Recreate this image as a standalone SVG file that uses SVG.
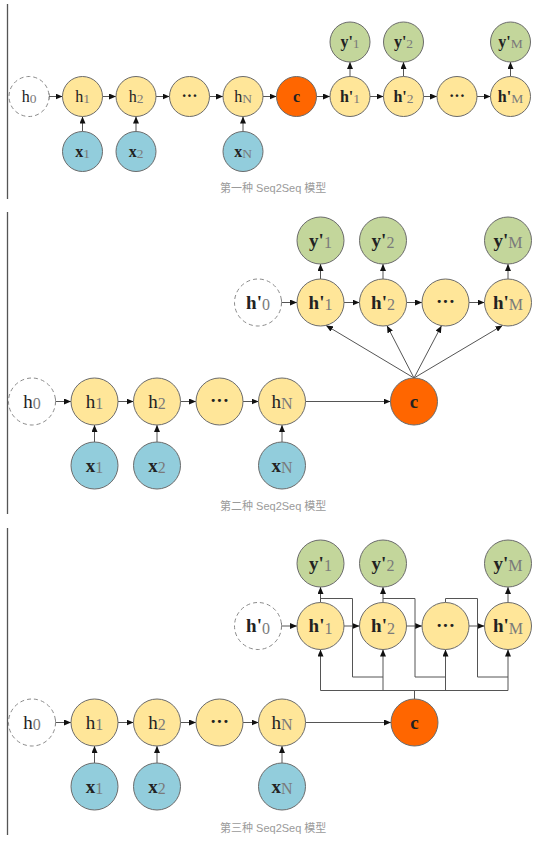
<svg xmlns="http://www.w3.org/2000/svg" width="545" height="844" viewBox="0 0 545 844">
<style>
.h{fill:#FFE699;stroke:#6b6b6b;stroke-width:1}
.x{fill:#92CDDC;stroke:#6b6b6b;stroke-width:1}
.y{fill:#C3D69B;stroke:#6b6b6b;stroke-width:1}
.c{fill:#FF6600;stroke:#6b6b6b;stroke-width:1}
.d{fill:#fff;stroke:#8a8a8a;stroke-width:1;stroke-dasharray:4 3}
.ln{stroke:#555;stroke-width:1;fill:none}
.a{marker-end:url(#ah)}
.tk{marker-start:url(#tick)}
.t{font-family:"Liberation Serif","DejaVu Serif",serif;text-anchor:middle;fill:#222}
.b{font-weight:bold}
.p1{font-size:16px}
.p2{font-size:19px}
.s{fill:#7a7a7a;font-weight:normal}
.s1{font-size:13.5px}
.s2{font-size:16px}
.cap{font-family:"Liberation Sans","Noto Sans CJK SC",sans-serif;font-size:11px;fill:#9a9a9a}
.bd{stroke:#555;stroke-width:1.3}
</style>
<defs>
<marker id="ah" markerUnits="userSpaceOnUse" markerWidth="7" markerHeight="6" refX="7" refY="3" orient="auto"><path d="M0,0 L7,3 L0,6 z" fill="#111"/></marker>
<marker id="tick" markerUnits="userSpaceOnUse" markerWidth="2" markerHeight="7" refX="1" refY="3.5" orient="auto"><path d="M1,0.5 V6.5" stroke="#555" stroke-width="1"/></marker>
</defs>

<g id="borders">
<line class="bd" x1="7.5" y1="4" x2="7.5" y2="199"/>
<line class="bd" x1="7.5" y1="212" x2="7.5" y2="514"/>
<line class="bd" x1="7.5" y1="528" x2="7.5" y2="835"/>
</g>

<!-- ================= Panel 1 ================= -->
<g id="p1-connectors">
<line class="ln a tk" x1="49" y1="96.5" x2="62.5" y2="96.5"/>
<line class="ln a" x1="102.5" y1="96.5" x2="116" y2="96.5"/>
<line class="ln a" x1="156" y1="96.5" x2="169.5" y2="96.5"/>
<line class="ln a" x1="209.5" y1="96.5" x2="223" y2="96.5"/>
<line class="ln a" x1="263" y1="96.5" x2="276.5" y2="96.5"/>
<line class="ln a" x1="316.5" y1="96.5" x2="330" y2="96.5"/>
<line class="ln a" x1="370" y1="96.5" x2="383.5" y2="96.5"/>
<line class="ln a" x1="423.5" y1="96.5" x2="437" y2="96.5"/>
<line class="ln a" x1="477" y1="96.5" x2="490.5" y2="96.5"/>
<line class="ln a" x1="82.5" y1="131.5" x2="82.5" y2="116.5"/>
<line class="ln a" x1="136" y1="131.5" x2="136" y2="116.5"/>
<line class="ln a" x1="243" y1="131.5" x2="243" y2="116.5"/>
<line class="ln a" x1="350" y1="76.5" x2="350" y2="62"/>
<line class="ln a" x1="403.5" y1="76.5" x2="403.5" y2="62"/>
<line class="ln a" x1="510.5" y1="76.5" x2="510.5" y2="62"/>
</g>
<g id="p1-h0"><circle class="d" cx="29" cy="96.5" r="20"/><text class="t p1" x="29" y="101.5">h<tspan class="s s1" dy="1">0</tspan></text></g>
<g id="p1-h1"><circle class="h" cx="82.5" cy="96.5" r="20"/><text class="t p1" x="82.5" y="101.5">h<tspan class="s s1" dy="1">1</tspan></text></g>
<g id="p1-h2"><circle class="h" cx="136" cy="96.5" r="20"/><text class="t p1" x="136" y="101.5">h<tspan class="s s1" dy="1">2</tspan></text></g>
<g id="p1-hdots"><circle class="h" cx="189.5" cy="96.5" r="20"/><text class="t p1 b" x="189.5" y="101">···</text></g>
<g id="p1-hN"><circle class="h" cx="243" cy="96.5" r="20"/><text class="t p1" x="243" y="101.5">h<tspan class="s s1" dy="1">N</tspan></text></g>
<g id="p1-c"><circle class="c" cx="296.5" cy="96.5" r="20"/><text class="t p1 b" x="296.5" y="101.5">c</text></g>
<g id="p1-hp1"><circle class="h" cx="350" cy="96.5" r="20"/><text class="t p1 b" x="350" y="101.5">h'<tspan class="s s1" dy="1">1</tspan></text></g>
<g id="p1-hp2"><circle class="h" cx="403.5" cy="96.5" r="20"/><text class="t p1 b" x="403.5" y="101.5">h'<tspan class="s s1" dy="1">2</tspan></text></g>
<g id="p1-hpdots"><circle class="h" cx="457" cy="96.5" r="20"/><text class="t p1 b" x="457" y="101">···</text></g>
<g id="p1-hpM"><circle class="h" cx="510.5" cy="96.5" r="20"/><text class="t p1 b" x="510.5" y="101.5">h'<tspan class="s s1" dy="1">M</tspan></text></g>
<g id="p1-x1"><circle class="x" cx="82.5" cy="151.5" r="20"/><text class="t p1 b" x="82.5" y="156.5">x<tspan class="s s1" dy="1">1</tspan></text></g>
<g id="p1-x2"><circle class="x" cx="136" cy="151.5" r="20"/><text class="t p1 b" x="136" y="156.5">x<tspan class="s s1" dy="1">2</tspan></text></g>
<g id="p1-xN"><circle class="x" cx="243" cy="151.5" r="20"/><text class="t p1 b" x="243" y="156.5">x<tspan class="s s1" dy="1">N</tspan></text></g>
<g id="p1-y1"><circle class="y" cx="350" cy="42" r="20"/><text class="t p1 b" x="350" y="47">y'<tspan class="s s1" dy="1">1</tspan></text></g>
<g id="p1-y2"><circle class="y" cx="403.5" cy="42" r="20"/><text class="t p1 b" x="403.5" y="47">y'<tspan class="s s1" dy="1">2</tspan></text></g>
<g id="p1-yM"><circle class="y" cx="510.5" cy="42" r="20"/><text class="t p1 b" x="510.5" y="47">y'<tspan class="s s1" dy="1">M</tspan></text></g>
<text id="cap1" class="cap" x="220" y="192">第一种 Seq2Seq 模型</text>

<!-- ================= Panel 2 ================= -->
<g id="p2-connectors">
<line class="ln a tk" x1="55.5" y1="401.5" x2="71" y2="401.5"/>
<line class="ln a" x1="118" y1="401.5" x2="133.5" y2="401.5"/>
<line class="ln a" x1="180.5" y1="401.5" x2="196" y2="401.5"/>
<line class="ln a" x1="243" y1="401.5" x2="258.5" y2="401.5"/>
<line class="ln a" x1="305.5" y1="401.5" x2="390.5" y2="401.5"/>
<line class="ln a" x1="94.5" y1="442" x2="94.5" y2="425"/>
<line class="ln a" x1="157" y1="442" x2="157" y2="425"/>
<line class="ln a" x1="282" y1="442" x2="282" y2="425"/>
<line class="ln a tk" x1="281.5" y1="302.5" x2="297" y2="302.5"/>
<line class="ln a" x1="344" y1="302.5" x2="359.5" y2="302.5"/>
<line class="ln a" x1="406.5" y1="302.5" x2="422" y2="302.5"/>
<line class="ln a" x1="469" y1="302.5" x2="484.5" y2="302.5"/>
<line class="ln a" x1="320.5" y1="279" x2="320.5" y2="264"/>
<line class="ln a" x1="383" y1="279" x2="383" y2="264"/>
<line class="ln a" x1="508" y1="279" x2="508" y2="264"/>
<line class="ln a" x1="414" y1="378" x2="326" y2="325.4"/>
<line class="ln a" x1="414" y1="378" x2="387" y2="325.7"/>
<line class="ln a" x1="414" y1="378" x2="441.5" y2="325.7"/>
<line class="ln a" x1="414" y1="378" x2="502.5" y2="325.4"/>
</g>
<g id="p2-h0"><circle class="d" cx="32" cy="401.5" r="23.5"/><text class="t p2" x="32" y="407.5">h<tspan class="s s2" dy="1.5">0</tspan></text></g>
<g id="p2-h1"><circle class="h" cx="94.5" cy="401.5" r="23.5"/><text class="t p2" x="94.5" y="407.5">h<tspan class="s s2" dy="1.5">1</tspan></text></g>
<g id="p2-h2"><circle class="h" cx="157" cy="401.5" r="23.5"/><text class="t p2" x="157" y="407.5">h<tspan class="s s2" dy="1.5">2</tspan></text></g>
<g id="p2-hdots"><circle class="h" cx="219.5" cy="401.5" r="23.5"/><text class="t p2 b" x="219.5" y="407">···</text></g>
<g id="p2-hN"><circle class="h" cx="282" cy="401.5" r="23.5"/><text class="t p2" x="282" y="407.5">h<tspan class="s s2" dy="1.5">N</tspan></text></g>
<g id="p2-c"><circle class="c" cx="414" cy="401.5" r="23.5"/><text class="t p2 b" x="414" y="407.5">c</text></g>
<g id="p2-x1"><circle class="x" cx="94.5" cy="465.5" r="23.5"/><text class="t p2 b" x="94.5" y="471.5">x<tspan class="s s2" dy="1.5">1</tspan></text></g>
<g id="p2-x2"><circle class="x" cx="157" cy="465.5" r="23.5"/><text class="t p2 b" x="157" y="471.5">x<tspan class="s s2" dy="1.5">2</tspan></text></g>
<g id="p2-xN"><circle class="x" cx="282" cy="465.5" r="23.5"/><text class="t p2 b" x="282" y="471.5">x<tspan class="s s2" dy="1.5">N</tspan></text></g>
<g id="p2-hp0"><circle class="d" cx="258" cy="302.5" r="23.5"/><text class="t p2 b" x="258" y="308.5">h'<tspan class="s s2" dy="1.5">0</tspan></text></g>
<g id="p2-hp1"><circle class="h" cx="320.5" cy="302.5" r="23.5"/><text class="t p2 b" x="320.5" y="308.5">h'<tspan class="s s2" dy="1.5">1</tspan></text></g>
<g id="p2-hp2"><circle class="h" cx="383" cy="302.5" r="23.5"/><text class="t p2 b" x="383" y="308.5">h'<tspan class="s s2" dy="1.5">2</tspan></text></g>
<g id="p2-hpdots"><circle class="h" cx="445.5" cy="302.5" r="23.5"/><text class="t p2 b" x="445.5" y="308">···</text></g>
<g id="p2-hpM"><circle class="h" cx="508" cy="302.5" r="23.5"/><text class="t p2 b" x="508" y="308.5">h'<tspan class="s s2" dy="1.5">M</tspan></text></g>
<g id="p2-y1"><circle class="y" cx="320.5" cy="240.5" r="23.5"/><text class="t p2 b" x="320.5" y="246.5">y'<tspan class="s s2" dy="1.5">1</tspan></text></g>
<g id="p2-y2"><circle class="y" cx="383" cy="240.5" r="23.5"/><text class="t p2 b" x="383" y="246.5">y'<tspan class="s s2" dy="1.5">2</tspan></text></g>
<g id="p2-yM"><circle class="y" cx="508" cy="240.5" r="23.5"/><text class="t p2 b" x="508" y="246.5">y'<tspan class="s s2" dy="1.5">M</tspan></text></g>
<text id="cap2" class="cap" x="220" y="510">第二种 Seq2Seq 模型</text>

<!-- ================= Panel 3 ================= -->
<g id="p3-connectors">
<line class="ln a tk" x1="55.5" y1="722.5" x2="71" y2="722.5"/>
<line class="ln a" x1="118" y1="722.5" x2="133.5" y2="722.5"/>
<line class="ln a" x1="180.5" y1="722.5" x2="196" y2="722.5"/>
<line class="ln a" x1="243" y1="722.5" x2="258.5" y2="722.5"/>
<line class="ln a" x1="305.5" y1="722.5" x2="391" y2="722.5"/>
<line class="ln a" x1="94.5" y1="763" x2="94.5" y2="746"/>
<line class="ln a" x1="157" y1="763" x2="157" y2="746"/>
<line class="ln a" x1="282" y1="763" x2="282" y2="746"/>
<line class="ln a tk" x1="281.5" y1="626" x2="297" y2="626"/>
<line class="ln a" x1="344" y1="626" x2="359.5" y2="626"/>
<line class="ln a" x1="406.5" y1="626" x2="422" y2="626"/>
<line class="ln a" x1="469" y1="626" x2="484.5" y2="626"/>
<line class="ln a" x1="320.5" y1="602.5" x2="320.5" y2="587"/>
<line class="ln a" x1="383" y1="602.5" x2="383" y2="587"/>
<line class="ln a" x1="508" y1="602.5" x2="508" y2="587"/>
<line class="ln" x1="445.5" y1="602.5" x2="445.5" y2="598.5"/>
<polyline class="ln" points="320.5,598.5 352.5,598.5 352.5,677 383,677"/>
<polyline class="ln" points="383,598.5 415,598.5 415,677 445.5,677"/>
<polyline class="ln" points="445.5,598.5 477.5,598.5 477.5,677 508,677"/>
<line class="ln" x1="320.5" y1="690.5" x2="508" y2="690.5"/>
<line class="ln" x1="414.5" y1="699" x2="414.5" y2="690.5"/>
<line class="ln a" x1="320.5" y1="690.5" x2="320.5" y2="649.5"/>
<line class="ln a" x1="383" y1="690.5" x2="383" y2="649.5"/>
<line class="ln a" x1="445.5" y1="690.5" x2="445.5" y2="649.5"/>
<line class="ln a" x1="508" y1="690.5" x2="508" y2="649.5"/>
</g>
<g id="p3-h0"><circle class="d" cx="32" cy="722.5" r="23.5"/><text class="t p2" x="32" y="728.5">h<tspan class="s s2" dy="1.5">0</tspan></text></g>
<g id="p3-h1"><circle class="h" cx="94.5" cy="722.5" r="23.5"/><text class="t p2" x="94.5" y="728.5">h<tspan class="s s2" dy="1.5">1</tspan></text></g>
<g id="p3-h2"><circle class="h" cx="157" cy="722.5" r="23.5"/><text class="t p2" x="157" y="728.5">h<tspan class="s s2" dy="1.5">2</tspan></text></g>
<g id="p3-hdots"><circle class="h" cx="219.5" cy="722.5" r="23.5"/><text class="t p2 b" x="219.5" y="728">···</text></g>
<g id="p3-hN"><circle class="h" cx="282" cy="722.5" r="23.5"/><text class="t p2" x="282" y="728.5">h<tspan class="s s2" dy="1.5">N</tspan></text></g>
<g id="p3-c"><circle class="c" cx="414.5" cy="722.5" r="23.5"/><text class="t p2 b" x="414.5" y="728.5">c</text></g>
<g id="p3-x1"><circle class="x" cx="94.5" cy="786.5" r="23.5"/><text class="t p2 b" x="94.5" y="792.5">x<tspan class="s s2" dy="1.5">1</tspan></text></g>
<g id="p3-x2"><circle class="x" cx="157" cy="786.5" r="23.5"/><text class="t p2 b" x="157" y="792.5">x<tspan class="s s2" dy="1.5">2</tspan></text></g>
<g id="p3-xN"><circle class="x" cx="282" cy="786.5" r="23.5"/><text class="t p2 b" x="282" y="792.5">x<tspan class="s s2" dy="1.5">N</tspan></text></g>
<g id="p3-hp0"><circle class="d" cx="258" cy="626" r="23.5"/><text class="t p2 b" x="258" y="632">h'<tspan class="s s2" dy="1.5">0</tspan></text></g>
<g id="p3-hp1"><circle class="h" cx="320.5" cy="626" r="23.5"/><text class="t p2 b" x="320.5" y="632">h'<tspan class="s s2" dy="1.5">1</tspan></text></g>
<g id="p3-hp2"><circle class="h" cx="383" cy="626" r="23.5"/><text class="t p2 b" x="383" y="632">h'<tspan class="s s2" dy="1.5">2</tspan></text></g>
<g id="p3-hpdots"><circle class="h" cx="445.5" cy="626" r="23.5"/><text class="t p2 b" x="445.5" y="631.5">···</text></g>
<g id="p3-hpM"><circle class="h" cx="508" cy="626" r="23.5"/><text class="t p2 b" x="508" y="632">h'<tspan class="s s2" dy="1.5">M</tspan></text></g>
<g id="p3-y1"><circle class="y" cx="320.5" cy="563.5" r="23.5"/><text class="t p2 b" x="320.5" y="569.5">y'<tspan class="s s2" dy="1.5">1</tspan></text></g>
<g id="p3-y2"><circle class="y" cx="383" cy="563.5" r="23.5"/><text class="t p2 b" x="383" y="569.5">y'<tspan class="s s2" dy="1.5">2</tspan></text></g>
<g id="p3-yM"><circle class="y" cx="508" cy="563.5" r="23.5"/><text class="t p2 b" x="508" y="569.5">y'<tspan class="s s2" dy="1.5">M</tspan></text></g>
<text id="cap3" class="cap" x="220" y="831.5">第三种 Seq2Seq 模型</text>
</svg>
